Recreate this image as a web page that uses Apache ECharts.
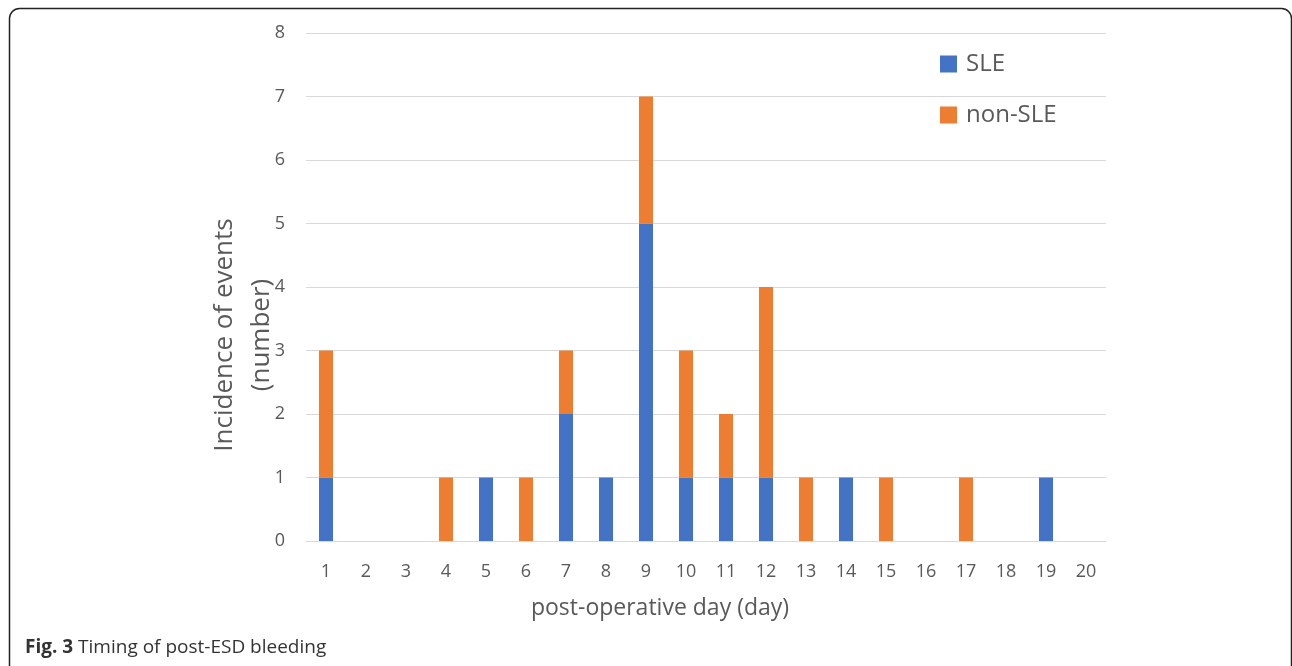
<!DOCTYPE html>
<html>
<head>
<meta charset="utf-8">
<script src="https://cdn.jsdelivr.net/npm/echarts@6/dist/echarts.min.js"></script>
<style>
html,body{margin:0;padding:0;background:#fff;}
#chart{width:1292px;height:666px;}
</style>
</head>
<body>
<div id="chart"></div>
<script>
const days = ['1','2','3','4','5','6','7','8','9','10','11','12','13','14','15','16','17','18','19','20'];
const sleValues = [1,0,0,0,1,0,2,1,5,1,1,1,0,1,0,0,0,0,1,0];
const nonSleValues = [2,0,0,1,0,1,1,0,2,2,1,3,1,0,1,0,1,0,0,0];
const yTicks = {min: 0, max: 8, interval: 1};

const FONT = '"Open Sans", "Noto Sans", sans-serif';
const chart = echarts.init(document.getElementById('chart'), null, {renderer: 'canvas'});
chart.setOption({
  animation: false,
  backgroundColor: '#fff',
  textStyle: {fontFamily: FONT},
  grid: {left: 306, right: 186, top: 33, bottom: 125, containLabel: false},
  legend: {
    orient: 'vertical',
    left: 935,
    top: 47,
    itemWidth: 17,
    itemHeight: 17,
    itemGap: 27,
    icon: 'rect',
    textStyle: {fontFamily: FONT, fontSize: 24, color: '#595959', padding: [0,0,0,4]},
    data: ['SLE', 'non-SLE']
  },
  xAxis: {
    type: 'category',
    data: days,
    axisLine: {show: true, lineStyle: {color: '#d9d9d9', width: 1}},
    axisTick: {show: false},
    axisLabel: {color: '#595959', fontSize: 18, margin: 22, fontFamily: FONT, interval: 0}
  },
  yAxis: {
    type: 'value',
    min: yTicks.min,
    max: yTicks.max,
    interval: yTicks.interval,
    axisLine: {show: false},
    axisTick: {show: false},
    splitLine: {lineStyle: {color: '#d9d9d9', width: 1}},
    axisLabel: {color: '#595959', fontSize: 18, margin: 21, fontFamily: FONT}
  },
  series: [
    {name: 'SLE', type: 'bar', stack: 'total', data: sleValues, barWidth: 14,
     itemStyle: {color: '#4472C4'}},
    {name: 'non-SLE', type: 'bar', stack: 'total', data: nonSleValues, barWidth: 14,
     itemStyle: {color: '#ED7D31'}}
  ],
  graphic: [
    {type: 'rect', shape: {x: 9.5, y: 8.5, width: 1282, height: 700, r: 10},
     style: {fill: 'none', stroke: '#222', lineWidth: 1.5}, silent: true, z: 100},
    {type: 'text', x: 243, y: 335, rotation: Math.PI / 2,
     style: {text: 'Incidence of events\n(number)', font: '26px ' + FONT, fill: '#595959',
             textAlign: 'center', textVerticalAlign: 'middle', lineHeight: 37}},
    {type: 'text', x: 660, y: 608,
     style: {text: 'post-operative day (day)', font: '23px ' + FONT, fill: '#595959',
             textAlign: 'center', textVerticalAlign: 'middle'}},
    {type: 'text', x: 25, y: 648,
     style: {text: '{b|Fig. 3} Timing of post-ESD bleeding', fill: '#333', textVerticalAlign: 'middle',
             font: '19px ' + FONT,
             rich: {b: {fontWeight: 'bold', fontSize: 19, fontFamily: FONT, fill: '#333'}}}}
  ]
});
</script>
</body>
</html>
